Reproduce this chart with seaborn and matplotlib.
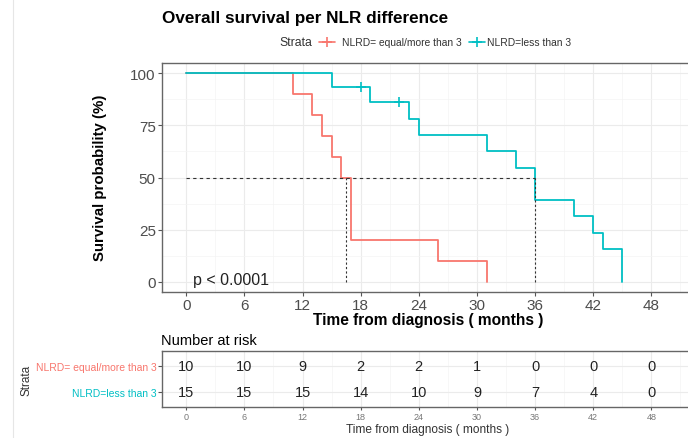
import pandas as pd
import seaborn as sns
import matplotlib.pyplot as plt
from matplotlib.lines import Line2D
from matplotlib.ticker import MultipleLocator

# Kaplan-Meier steps (time in months, survival in %)
high_time = [0, 11, 13, 14, 15, 16, 17, 26, 31]
high_surv = [100, 90, 80, 70, 60, 50, 20, 10, 0]
low_time = [0, 15, 19, 23, 24, 31, 34, 36, 40, 42, 43, 45]
low_surv = [100, 93.3, 86.2, 78.3, 70.5, 62.7, 54.8, 39.2, 31.3, 23.5, 15.7, 0]
low_cens_time = [18, 22]
low_cens_surv = [93.3, 86.2]
median_times = [16.5, 36]

# Number at risk table
risk_times = [0, 6, 12, 18, 24, 30, 36, 42, 48]
high_risk = [10, 10, 9, 2, 2, 1, 0, 0, 0]
low_risk = [15, 15, 15, 14, 10, 9, 7, 4, 0]

strata = ['NLRD= equal/more than 3', 'NLRD=less than 3']
colors = ['#F8766D', '#00BFC4']

sns.set_theme(style='white')
plt.rcParams['font.family'] = ['Liberation Sans', 'DejaVu Sans']

df = pd.concat([
    pd.DataFrame({'time': high_time, 'surv': high_surv, 'strata': strata[0]}),
    pd.DataFrame({'time': low_time, 'surv': low_surv, 'strata': strata[1]}),
])

W, H = 688, 439
fig = plt.figure(figsize=(W / 100, H / 100), dpi=100)

def px_axes(left, top, right, bottom):
    return fig.add_axes([left / W, 1 - bottom / H, (right - left) / W, (bottom - top) / H])

ax = px_axes(162, 64, 695, 293)
rax = px_axes(162, 352, 695, 408)

# Main survival panel
sns.lineplot(data=df, x='time', y='surv', hue='strata', palette=colors,
             drawstyle='steps-post', estimator=None, lw=1.3, legend=False, ax=ax)
sns.scatterplot(x=low_cens_time, y=low_cens_surv, marker='+', s=45, color=colors[1],
                linewidth=1.2, ax=ax, zorder=4)

ax.plot([0, max(median_times)], [50, 50], color='#333333', lw=0.8, ls=(0, (3, 3)))
for m in median_times:
    ax.plot([m, m], [0, 50], color='#333333', lw=0.8, ls=(0, (2, 2)))

ax.text(0.7, 1.0, 'p < 0.0001', ha='left', va='center', fontsize=11.5, color='#222222')

ax.set_xlim(-2.5, 52.5)
ax.set_ylim(-5, 105)
ax.set_xticks(risk_times)
ax.set_yticks([0, 25, 50, 75, 100])
ax.xaxis.set_minor_locator(MultipleLocator(3))
ax.yaxis.set_minor_locator(MultipleLocator(12.5))
ax.grid(True, which='major', color='#EBEBEB', lw=0.8)
ax.grid(True, which='minor', color='#F4F4F4', lw=0.5)
ax.set_axisbelow(True)
ax.tick_params(axis='both', which='major', length=3, width=0.8, color='#555555',
               labelsize=11, labelcolor='#4D4D4D', pad=1.5, bottom=True, left=True)
ax.tick_params(axis='both', which='minor', length=0)
ax.set_xlabel('')
ax.set_ylabel('')
for s in ax.spines.values():
    s.set_color('#666666')
    s.set_linewidth(1.0)

# Risk table panel
rax.set_xlim(-2.5, 52.5)
rax.set_ylim(0.42, 2.6)
for t, n in zip(risk_times, high_risk):
    rax.text(t, 2, str(n), ha='center', va='center', fontsize=10.5, color='#222222')
for t, n in zip(risk_times, low_risk):
    rax.text(t, 1, str(n), ha='center', va='center', fontsize=10.5, color='#222222')
rax.set_xticks(risk_times)
rax.xaxis.set_minor_locator(MultipleLocator(3))
rax.set_yticks([2, 1])
rax.set_yticklabels(strata)
for lab, c in zip(rax.get_yticklabels(), colors):
    lab.set_color(c)
rax.grid(True, which='major', color='#EBEBEB', lw=0.8)
rax.grid(True, which='minor', axis='x', color='#F4F4F4', lw=0.5)
rax.set_axisbelow(True)
rax.tick_params(axis='x', which='major', length=2.5, width=0.8, color='#555555',
                labelsize=6.5, labelcolor='#777777', pad=1, bottom=True)
rax.tick_params(axis='y', which='major', length=3, width=0.8, color='#555555',
                labelsize=7.5, pad=1, left=True)
rax.tick_params(axis='both', which='minor', length=0)
rax.set_xlabel('')
for s in rax.spines.values():
    s.set_color('#666666')
    s.set_linewidth(1.0)

# Titles and labels in figure coordinates
fig.text(162 / W, 1 - 18 / H, 'Overall survival per NLR difference', ha='left',
         va='center', fontsize=12.3, fontweight='bold', color='black')
fig.text(100 / W, 1 - 178 / H, 'Survival probability (%)', rotation=90, ha='center',
         va='center', fontsize=10.8, fontweight='bold', color='black')
fig.text(428 / W, 1 - 321 / H, 'Time from diagnosis ( months )', ha='center',
         va='center', fontsize=11.2, fontweight='bold', color='black')
fig.text(161 / W, 1 - 341 / H, 'Number at risk', ha='left', va='center', fontsize=10.5,
         color='black')
fig.text(428 / W, 1 - 430 / H, 'Time from diagnosis ( months )', ha='center',
         va='center', fontsize=8.6, color='#333333')
fig.text(27 / W, 1 - 380 / H, 'Strata', rotation=90, ha='center', va='center',
         fontsize=8.5, color='#333333')

# Horizontal legend at the top
fig.text(279 / W, 1 - 43 / H, 'Strata', ha='left', va='center', fontsize=8.8,
         color='#333333')
for cx, tx, lab, c in zip([327, 477], [342, 487], strata, colors):
    fig.add_artist(Line2D([(cx - 8) / W, (cx + 8) / W], [1 - 43 / H, 1 - 43 / H],
                          color=c, lw=1.2))
    fig.add_artist(Line2D([cx / W], [1 - 43 / H], color=c, marker='+', ms=7, mew=1.2))
    fig.text(tx / W, 1 - 43 / H, lab, ha='left', va='center', fontsize=7.4,
             color='#333333')

# faint frame line at the left edge of the screenshot
fig.add_artist(Line2D([13 / W, 13 / W], [0, 1], color='#E6E6E6', lw=0.8))

fig.savefig('out.png', dpi=100)
